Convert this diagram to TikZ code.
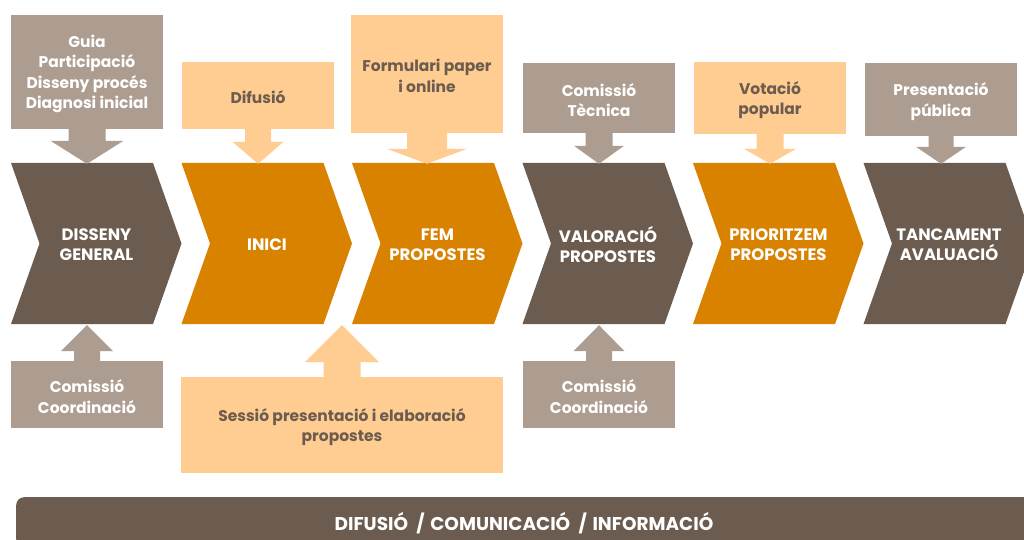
\documentclass[tikz,border=0pt]{standalone}
\usepackage{fontspec}
\setmainfont{Poppins}
\usetikzlibrary{calc}
\definecolor{dbrown}{RGB}{107,92,79}
\definecolor{dorange}{RGB}{217,130,0}
\definecolor{tanc}{RGB}{173,157,144}
\definecolor{lorange}{RGB}{255,204,145}
\tikzset{
  boxtext/.style={inner sep=0pt, align=center, font=\fontsize{15.5}{20.5}\selectfont\bfseries, yshift=-2pt},
  tanbox/.style={inner sep=0pt, fill=tanc},
  orbox/.style={inner sep=0pt, fill=lorange},
  tantext/.style={boxtext, text=white},
  ortext/.style={boxtext, text=dbrown},
  chevtext/.style={inner sep=0pt, align=center, text=white, font=\fontsize{16.5}{20}\selectfont\bfseries},
  barstyle/.style={fill=dbrown, rounded corners=8pt, inner sep=0pt},
  bartextstyle/.style={text=white, font=\fontsize{18.5}{20}\selectfont\bfseries}
}
% chevron: name, left x, colour, text
\newcommand\chev[4]{%
  \fill[#3] (#2,163) -- ++(142,0) -- ++(28.5,80.5) -- ++(-28.5,80.5) -- ++(-142,0) -- ++(28.5,-80.5) -- cycle;
  \node[chevtext, minimum width=171pt, minimum height=161pt] (#1) at ({#2+85.5},244.5) {#4};
}
% box: kind (tan/or), name, centre, width, height, text
\newcommand\infobox[6]{%
  \node[#1box, minimum width=#4pt, minimum height=#5pt,
        label={[#1text]center:{#6}}] (#2) at (#3) {};
}
% downward block arrow: box, chevron, stem hw, head hw, head length, colour
\newcommand\blkdown[6]{%
  \coordinate (T) at (#1.south |- #2.north);
  \fill[#6] ($(#1.south)+(-#3,-1)$) -- ($(T)+(-#3,-#5)$) -- ($(T)+(-#4,-#5)$) -- (T) -- ($(T)+(#4,-#5)$) -- ($(T)+(#3,-#5)$) -- ($(#1.south)+(#3,-1)$) -- cycle;
}
% upward block arrow
\newcommand\blkup[6]{%
  \coordinate (T) at (#1.north |- #2.south);
  \fill[#6] ($(#1.north)+(-#3,1)$) -- ($(T)+(-#3,#5)$) -- ($(T)+(-#4,#5)$) -- (T) -- ($(T)+(#4,#5)$) -- ($(T)+(#3,#5)$) -- ($(#1.north)+(#3,1)$) -- cycle;
}
\begin{document}
\begin{tikzpicture}[x=1pt,y=-1pt]
\useasboundingbox (0,0) rectangle (1024,540);
\fill[white] (0,0) rectangle (1024,540);

% chevrons
\chev{c1}{11}{dbrown}{DISSENY\\GENERAL}
\chev{c2}{181.5}{dorange}{INICI}
\chev{c3}{352}{dorange}{FEM\\PROPOSTES}
\chev{c4}{522.5}{dbrown}{VALORACIÓ\\PROPOSTES}
\chev{c5}{693}{dorange}{PRIORITZEM\\PROPOSTES}
\chev{c6}{863.5}{dbrown}{TANCAMENT\\AVALUACIÓ}

% top boxes
\infobox{tan}{t1}{87,72}{152}{114}{Guia\\Participació\\Disseny procés\\Diagnosi inicial}
\infobox{or}{t2}{258,95.5}{152}{67}{Difusió}
\infobox{or}{t3}{427,74}{152}{118}{Formulari paper\\i online}
\infobox{tan}{t4}{599,98}{152}{70}{Comissió\\Tècnica}
\infobox{or}{t5}{770,98}{152}{72}{Votació\\popular}
\infobox{tan}{t6}{941,99.5}{152}{73}{Presentació\\pública}

% bottom boxes
\infobox{tan}{b1}{87,394.5}{152}{67}{Comissió\\Coordinació}
\infobox{or}{b2}{342,425}{322}{96}{Sessió presentació i elaboració\\propostes}
\infobox{tan}{b3}{599,394.5}{152}{67}{Comissió\\Coordinació}

% arrows
\blkdown{t1}{c1}{18.5}{36.5}{23}{tanc}
\blkdown{t2}{c2}{13}{25.5}{22}{lorange}
\blkdown{t3}{c3}{20}{40}{15}{lorange}
\blkdown{t4}{c4}{13.5}{25}{18}{tanc}
\blkdown{t5}{c5}{13.5}{26}{15}{lorange}
\blkdown{t6}{c6}{12.5}{25}{17}{tanc}
\blkup{b1}{c1}{13}{26}{26}{tanc}
\blkup{b2}{c3}{18.5}{37}{37}{lorange}
\blkup{b3}{c4}{13}{25.5}{26}{tanc}

% bottom bar
\node[barstyle, minimum width=1016pt, minimum height=50pt, anchor=north west] (bar) at (16,497) {};
\node[bartextstyle] (bartext) at (524,523) {DIFUSIÓ\hspace{0.45em}/\hspace{0.3em}COMUNICACIÓ\hspace{0.45em}/\hspace{0.3em}INFORMACIÓ};
\end{tikzpicture}
\end{document}
